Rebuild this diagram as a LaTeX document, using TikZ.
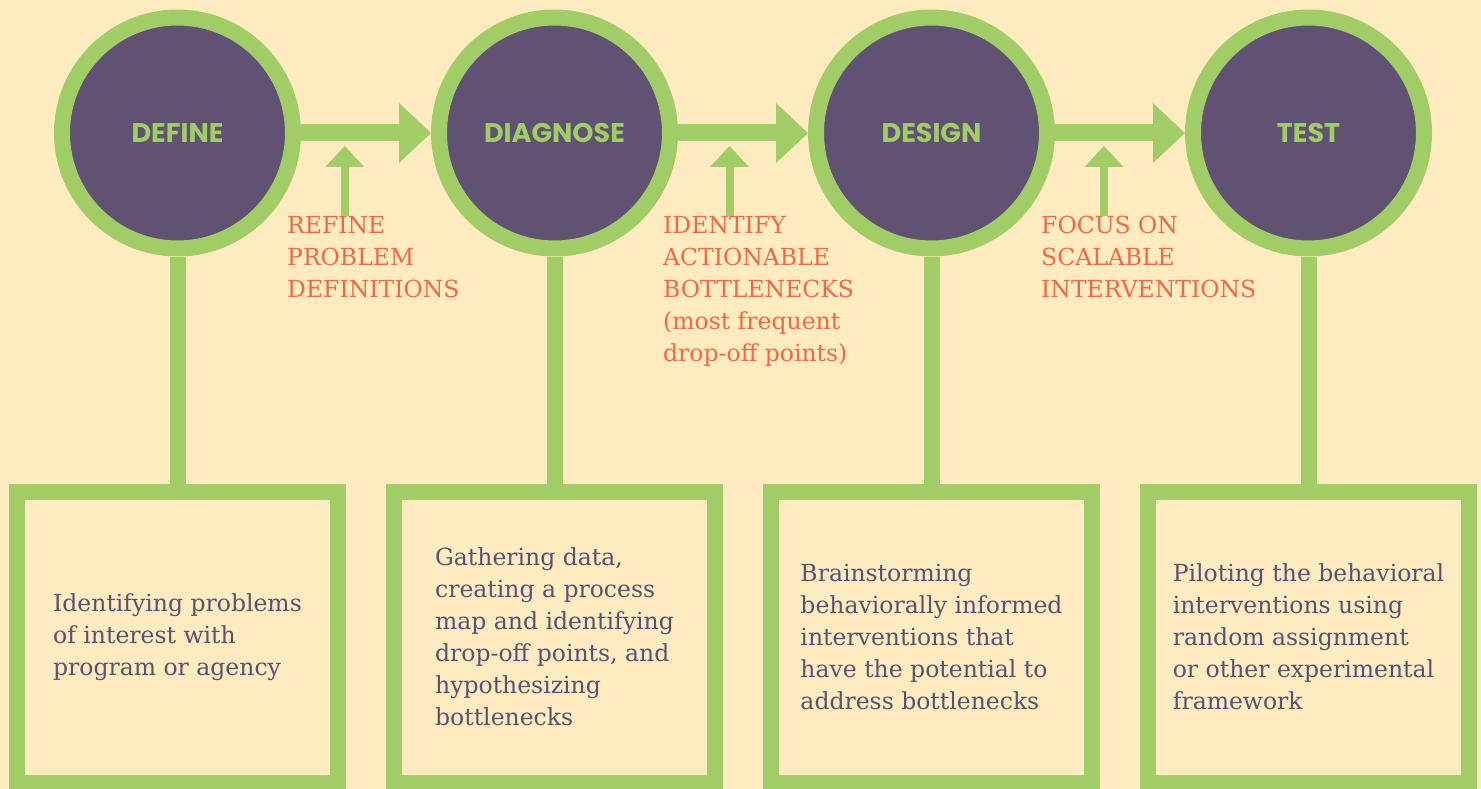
\documentclass[tikz,border=0pt]{standalone}
\usepackage{fontspec}
\usepackage{xcolor}
\usetikzlibrary{positioning,chains,arrows.meta}
\setmainfont{DejaVu Serif}
\newfontfamily\headfont{Poppins}
\definecolor{cream}{RGB}{254,235,192}
\definecolor{leaf}{RGB}{160,205,102}
\definecolor{plum}{RGB}{96,82,114}
\definecolor{coral}{RGB}{240,104,72}
\definecolor{ink}{RGB}{94,80,112}

\begin{document}
\begin{tikzpicture}[
          x=1pt,y=-1pt,
          stage/.style={circle,fill=plum,draw=leaf,line width=16pt,minimum size=231pt,inner sep=0pt,
            text=leaf,font=\headfont\bfseries\fontsize{27}{27}\selectfont},
          infobox/.style={rectangle,draw=leaf,line width=16pt,minimum width=321pt,minimum height=291pt,
            inner sep=0pt,align=left,text=ink,font=\fontsize{23.5}{32}\selectfont},
          note/.style={anchor=north west,inner sep=0pt,align=left,text=coral,font=\fontsize{23.5}{32}\selectfont},
          link/.style={draw=leaf,line width=17pt,-{Triangle[length=32pt,width=60pt,line width=0pt]}},
          feed/.style={draw=leaf,line width=8pt,-{Triangle[length=21pt,width=39pt,line width=0pt]}},
          stem/.style={draw=leaf,line width=16pt}
          ]
          % the background
          \useasboundingbox[fill=cream] (0,0) rectangle (1481,789);
          % the stages
          \begin{scope}[shift={(177.5,133)},start chain=going right,node distance=130pt]
            \foreach \i/\xname in {1/DEFINE,2/DIAGNOSE,3/DESIGN,4/TEST}
            \node[stage,on chain] (c\i) {\xname};
          \end{scope}
          % the boxes
          \foreach \i/\xtext in {1/{Identifying problems\\of interest with\\program or agency},
              2/{Gathering data,\\creating a process\\map and identifying\\drop-off points, and\\hypothesizing\\bottlenecks},
              3/{Brainstorming\\behaviorally informed\\interventions that\\have the potential to\\address bottlenecks},
              4/{Piloting the behavioral\\interventions using\\random assignment\\or other experimental\\framework}}
          \node[infobox,below=227pt of c\i] (b\i) {\xtext};
          % the notes
          \node[note] (n1) at (287,216) {REFINE\\PROBLEM\\DEFINITIONS};
          \node[note] (n2) at (663,216) {IDENTIFY\\ACTIONABLE\\BOTTLENECKS\\(most frequent\\drop-off points)};
          \node[note] (n3) at (1041,216) {FOCUS ON\\SCALABLE\\INTERVENTIONS};
          \coordinate (t1) at (344.7,146);
          \coordinate (t2) at (729.5,146);
          \coordinate (t3) at (1104,146);
          % the edges
          \foreach \i/\j in {1/2,2/3,3/4}
          \draw[link] (c\i) -- (c\j);
          \foreach \i in {1,...,4}
          \draw[stem] (c\i) -- (b\i);
          \foreach \i in {1,2,3}
          \draw[feed] (n\i.north -| t\i) -- (t\i);
        \end{tikzpicture}
\end{document}
